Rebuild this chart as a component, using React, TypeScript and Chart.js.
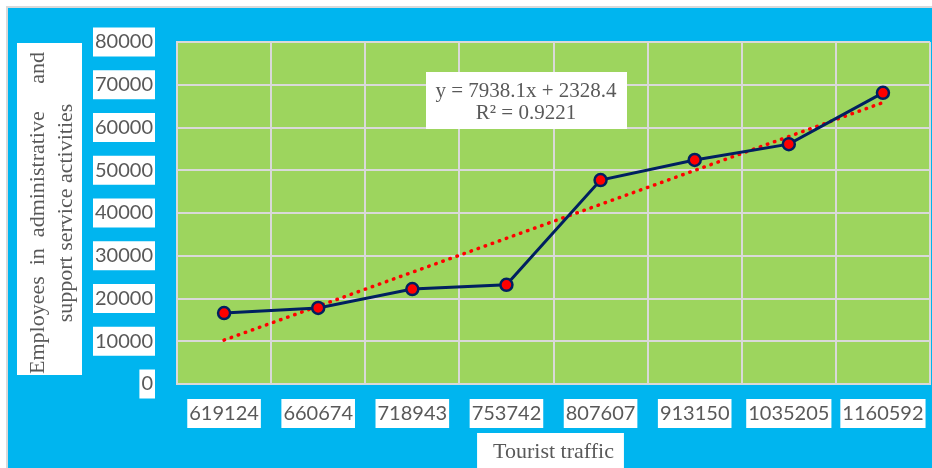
import React, { useEffect, useRef } from "react";
import { Chart, registerables } from "chart.js";

Chart.register(...registerables);

const categories = ["619124", "660674", "718943", "753742", "807607", "913150", "1035205", "1160592"];
const employees = [16600, 17800, 22200, 23200, 47700, 52400, 56100, 68100];
const trendValues: (number | null)[] = [10270, null, null, null, null, null, null, 65830];
const yMin = 0;
const yMax = 80000;
const yStep = 10000;
const equationLines = ["y = 7938.1x + 2328.4", "R\u00B2 = 0.9221"];
const xTitle = "Tourist traffic";
const yTitle = ["Employees  in  administrative     and", "support service activities"];

const BLUE = "#00B5EF";
const GREEN = "#9DD55E";
const GRID = "#D9D9D9";
const TEXT = "#595959";
const NAVY = "#002060";
const RED = "#FF0000";
const SERIF = "'Liberation Serif', 'Times New Roman', serif";
const SANS = "Lato, 'Open Sans', sans-serif";

const decorPlugin = {
  id: "decor",
  beforeDraw(chart: any) {
    const { ctx, chartArea: a, width, height } = chart;
    ctx.save();
    ctx.fillStyle = BLUE;
    ctx.fillRect(0, 0, width, height);
    ctx.fillStyle = GREEN;
    ctx.fillRect(a.left, a.top, a.right - a.left, a.bottom - a.top);
    ctx.fillStyle = "#FFFFFF";
    const cy = (a.top + a.bottom) / 2;
    ctx.fillRect(9, cy - 170, 65, 332);
    ctx.font = `22px ${SERIF}`;
    const w = ctx.measureText(xTitle).width + 26;
    const cx = (a.left + a.right) / 2;
    ctx.fillRect(cx - w / 2 - 3, height - 35, w, 35);
    ctx.restore();
  },
  afterDraw(chart: any) {
    const { ctx, chartArea: a } = chart;
    ctx.save();
    const left = a.left + 249;
    const top = a.top + 30;
    ctx.fillStyle = "#FFFFFF";
    ctx.fillRect(left, top, 201, 57);
    ctx.fillStyle = TEXT;
    ctx.font = `21px ${SERIF}`;
    ctx.textAlign = "center";
    ctx.textBaseline = "middle";
    ctx.fillText(equationLines[0], left + 100, top + 19);
    ctx.fillText(equationLines[1], left + 100, top + 41);
    ctx.restore();
  },
};

export default function App() {
  const ref = useRef<HTMLCanvasElement | null>(null);

  useEffect(() => {
    if (!ref.current) return;
    const chart = new Chart(ref.current, {
      type: "line",
      data: {
        labels: categories,
        datasets: [
          {
            label: "Employees",
            data: employees,
            borderColor: NAVY,
            borderWidth: 3,
            pointBackgroundColor: RED,
            pointBorderColor: NAVY,
            pointBorderWidth: 2.5,
            pointRadius: 6,
            tension: 0,
            order: 1,
          },
          {
            label: "Trend",
            data: trendValues,
            borderColor: RED,
            borderWidth: 3.5,
            borderDash: [0.5, 7],
            borderCapStyle: "round",
            pointRadius: 0,
            spanGaps: true,
            tension: 0,
            order: 2,
          },
        ],
      },
      options: {
        animation: false,
        responsive: false,
        maintainAspectRatio: false,
        layout: { autoPadding: false, padding: { top: 34, right: 2, bottom: 0, left: 0 } },
        plugins: { legend: { display: false }, tooltip: { enabled: false } },
        scales: {
          x: {
            type: "category",
            offset: true,
            grid: { offset: true, color: GRID, lineWidth: 2, drawTicks: false },
            border: { color: GRID, width: 2 },
            ticks: {
              color: TEXT,
              font: { family: SANS, size: 20 },
              padding: 17.5,
              maxRotation: 0,
              autoSkip: false,
              showLabelBackdrop: true,
              backdropColor: "#FFFFFF",
              backdropPadding: { left: 2, right: 2, top: 2.5, bottom: 2.5 },
            },
            title: {
              display: true,
              text: xTitle,
              color: TEXT,
              font: { family: SERIF, size: 22, lineHeight: "28px" },
              padding: { top: 0, bottom: 2 },
            },
            afterFit(scale: any) {
              scale.height = 84;
              scale.paddingLeft = 0;
              scale.paddingRight = 0;
            },
          },
          y: {
            min: yMin,
            max: yMax,
            grid: { color: GRID, lineWidth: 2, drawTicks: false },
            border: { color: GRID, width: 2 },
            ticks: {
              stepSize: yStep,
              color: TEXT,
              font: { family: SANS, size: 20 },
              padding: 24,
              showLabelBackdrop: true,
              backdropColor: "#FFFFFF",
              backdropPadding: { left: 2, right: 2, top: 2.5, bottom: 2.5 },
              callback: (v: any) => String(v),
            },
            title: {
              display: true,
              text: yTitle,
              color: TEXT,
              font: { family: SERIF, size: 22, lineHeight: "28px" },
              padding: { top: 16, bottom: 0 },
            },
            afterFit(scale: any) {
              scale.width = 169;
              scale.paddingTop = 0;
              scale.paddingBottom = 0;
            },
          },
        },
      },
      plugins: [decorPlugin],
    } as any);
    return () => chart.destroy();
  }, []);

  return (
    <div
      style={{
        position: "absolute",
        left: 6,
        top: 6,
        width: 924,
        height: 460,
        borderLeft: "2px solid #D9D9D9",
        borderTop: "2px solid #D9D9D9",
      }}
    >
      <canvas ref={ref} width={924} height={460} style={{ display: "block", width: 924, height: 460 }} />
    </div>
  );
}
